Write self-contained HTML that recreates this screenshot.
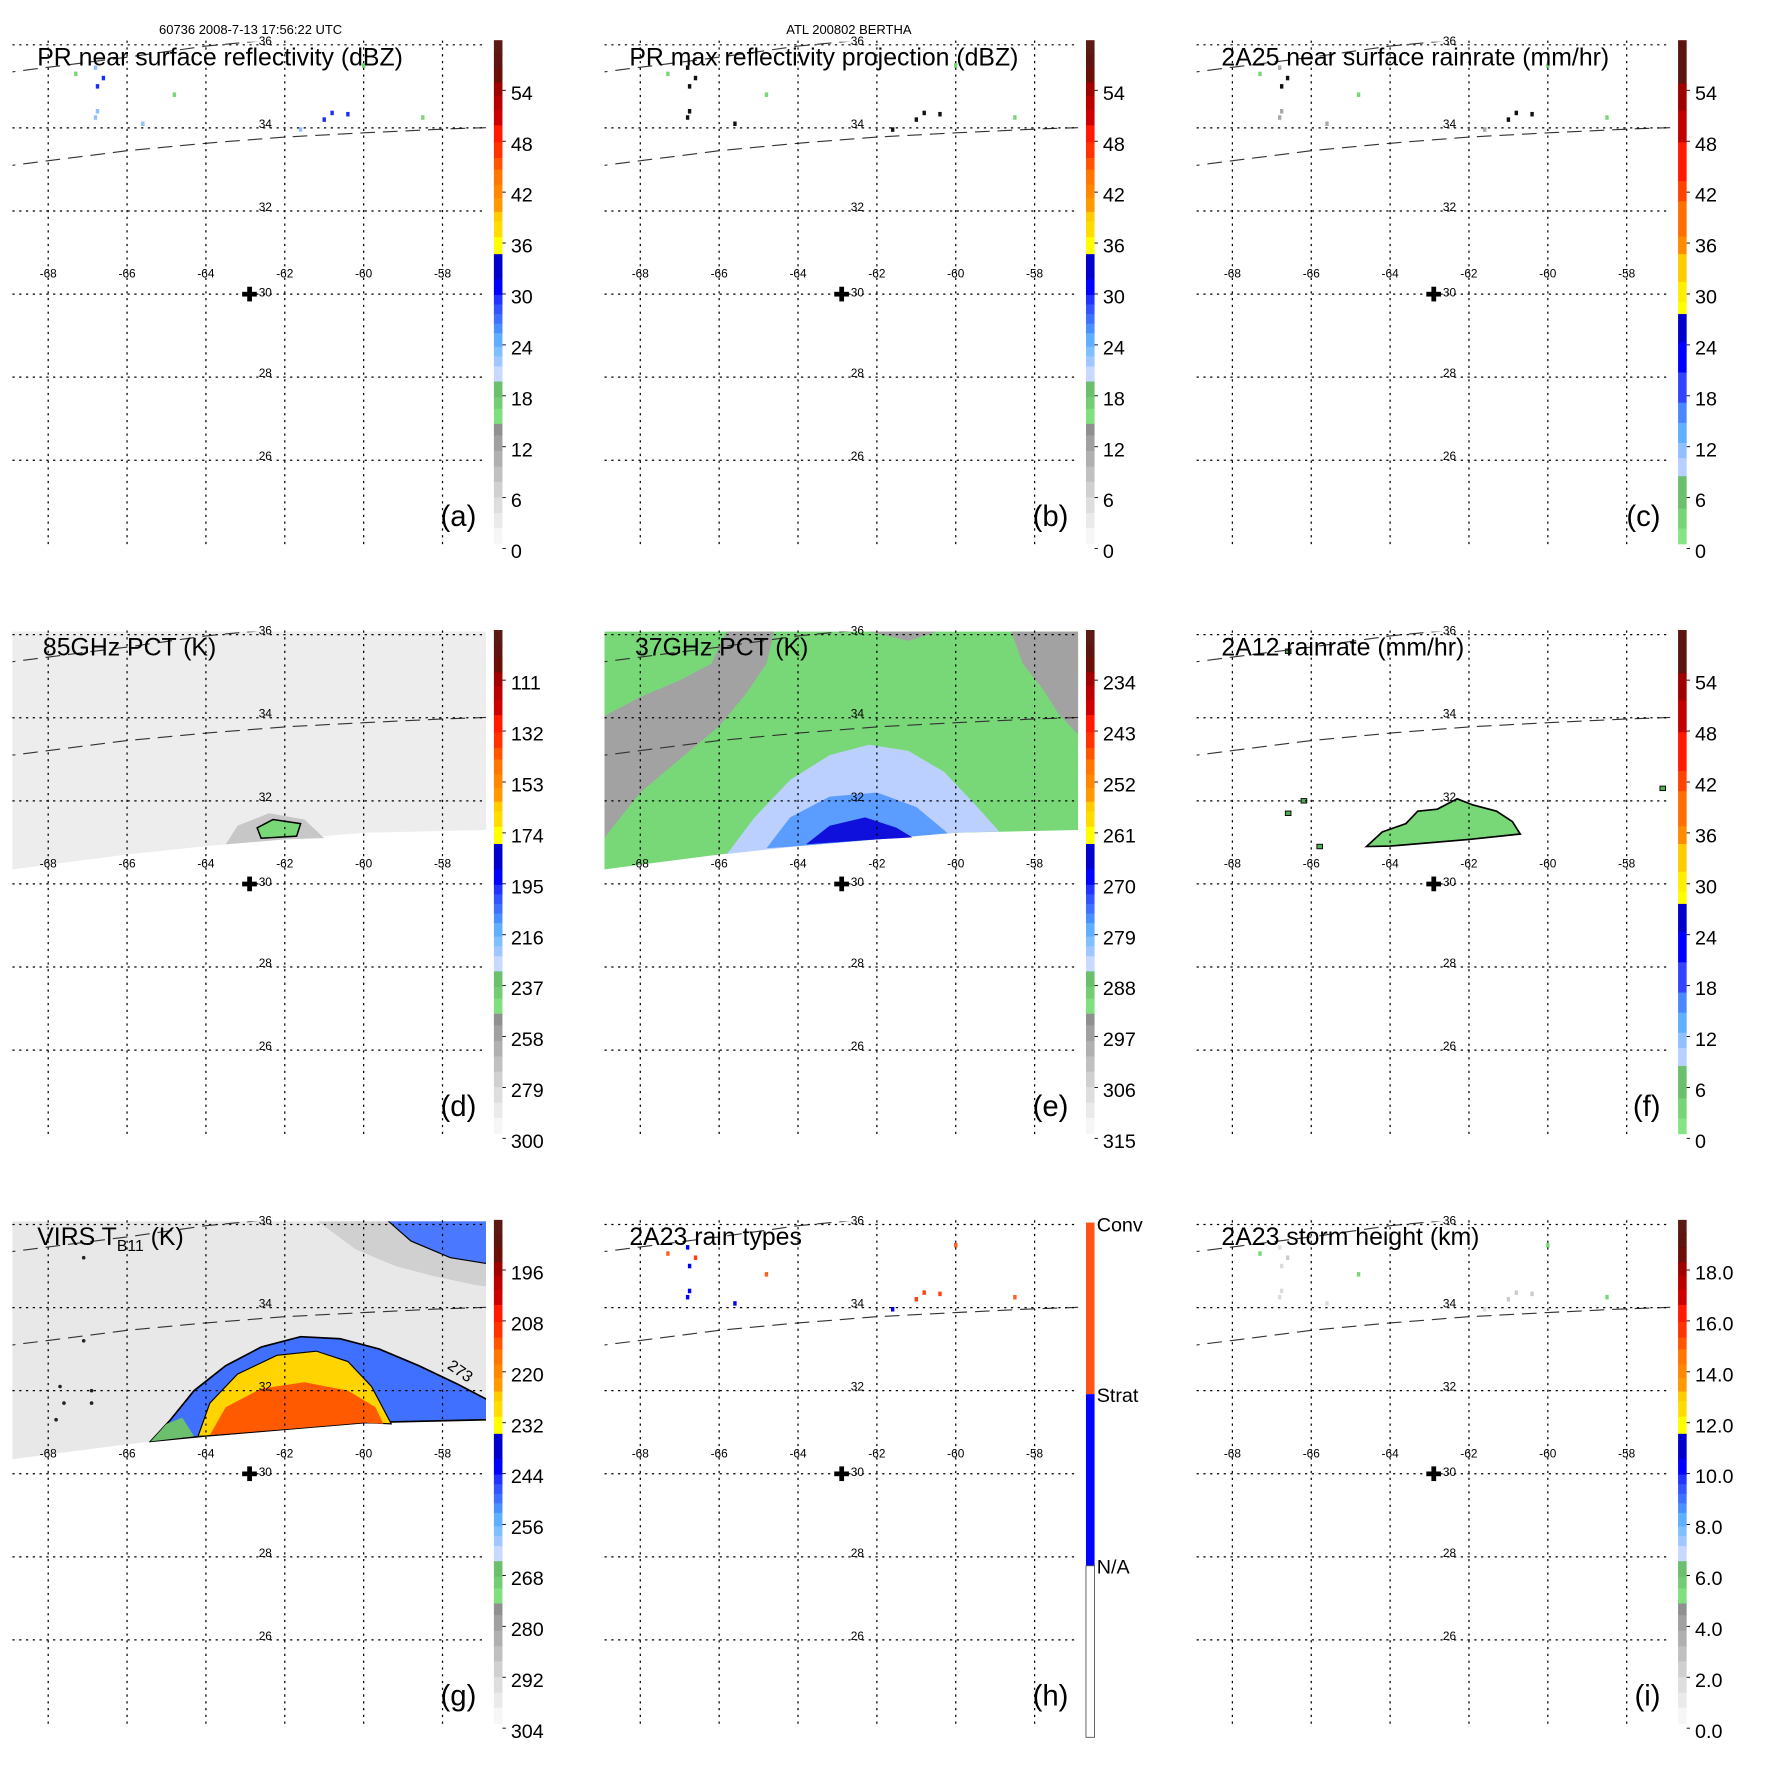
<!DOCTYPE html>
<html><head><meta charset="utf-8">
<style>
html,body{margin:0;padding:0;background:#fff;}
svg{display:block;font-family:"Liberation Sans",Arial,sans-serif;}
</style></head>
<body>
<svg id="fig" xmlns="http://www.w3.org/2000/svg" width="1771" height="1771" viewBox="0 0 1550 1550">
<rect x="0" y="0" width="1550" height="1550" fill="#fff"/>
<g transform="scale(0.988)">
<text x="222" y="30" font-size="11.5" text-anchor="middle">60736 2008-7-13 17:56:22 UTC</text>
<text x="752" y="30" font-size="11.5" text-anchor="middle">ATL 200802 BERTHA</text>
<g id="root"></g>
</g>
</svg>
<script>
// ---------- data arrays ----------
const lonTicks = [-68, -66, -64, -62, -60, -58];
const latTicks = [36, 34, 32, 30, 28, 26];
const cbLabelsDbz = ["54","48","42","36","30","24","18","12","6","0"];
const cbLabels85 = ["111","132","153","174","195","216","237","258","279","300"];
const cbLabels37 = ["234","243","252","261","270","279","288","297","306","315"];
const cbLabelsRain = ["54","48","42","36","30","24","18","12","6","0"];
const cbLabelsVirs = ["196","208","220","232","244","256","268","280","292","304"];
const cbLabelsHeight = ["18.0","16.0","14.0","12.0","10.0","8.0","6.0","4.0","2.0","0.0"];
const rainTypeLabels = ["Conv","Strat","N/A"];
const panelTitles = ["PR near surface reflectivity (dBZ)","PR max reflectivity projection (dBZ)","2A25 near surface rainrate (mm/hr)","85GHz PCT (K)","37GHz PCT (K)","2A12 rainrate (mm/hr)","VIRS T","2A23 rain types","2A23 storm height (km)"];
const panelLetters = ["(a)","(b)","(c)","(d)","(e)","(f)","(g)","(h)","(i)"];
// swath edges (lon, lat)
const swathBottom = [[-69.2,30.3],[-68.9,30.35],[-66,30.71],[-64,30.91],[-62,31.07],[-60,31.23],[-56.9,31.3],[-56.5,31.32]];
const scanEdgeUpper = [[-69.2,35.3],[-68.9,35.35],[-66,35.7],[-64,35.97],[-62,36.15]];
const scanEdgeLower = [[-69.2,33.05],[-68.9,33.1],[-66,33.45],[-64,33.63],[-62,33.78],[-60,33.88],[-58,33.97],[-56.5,34.02]];
// sparse PR echoes [lon, lat, value]
const prEchoes = [[-66.6,35.2,30],[-66.8,35.45,24],[-66.75,35.0,28],[-66.8,34.25,26],[-66.75,34.4,22],[-61.0,34.2,31],[-60.4,34.33,32],[-60.8,34.36,30],[-61.6,33.96,24],[-58.5,34.25,17],[-67.3,35.3,16],[-65.6,34.1,22],[-64.8,34.8,16],[-60.0,35.5,16]];
// 37 GHz regions
const pct37Grey1 = [[-69,31.0],[-68,32.2],[-67,33.0],[-66,33.8],[-65.3,34.6],[-64.8,35.3],[-64.6,36.1],[-65.8,36.1],[-66.2,35.3],[-67,34.9],[-68,34.5],[-69,34.0]];
const pct37Grey2 = [[-58.6,36.1],[-58.3,35.3],[-57.8,34.7],[-57.4,34.1],[-56.5,33.2],[-56.5,36.1]];
const pct37Grey3 = [[-62.3,36.1],[-61.2,35.85],[-60.4,36.1]];
const pct37Light = [[-65.8,30.72],[-65.1,31.6],[-64.2,32.5],[-63.2,33.1],[-62.2,33.35],[-61.2,33.2],[-60.3,32.7],[-59.5,31.9],[-58.9,31.26]];
const pct37Mid = [[-64.8,30.86],[-64.2,31.6],[-63.2,32.1],[-62.0,32.2],[-61.0,31.85],[-60.2,31.22]];
const pct37Dark = [[-63.8,30.95],[-63.2,31.4],[-62.3,31.6],[-61.5,31.35],[-61.1,31.12]];
// 85 GHz cold spot
const pct85Spot = [[-63.5,30.95],[-63.2,31.4],[-62.4,31.7],[-61.5,31.55],[-61.0,31.1]];
const pct85Core = [[-62.7,31.35],[-62.3,31.55],[-61.6,31.45],[-61.7,31.15],[-62.6,31.1]];
// 2A12 rain area
const rain2A12 = [[-64.6,30.9],[-64.2,31.25],[-63.6,31.45],[-63.3,31.75],[-62.8,31.8],[-62.3,32.05],[-61.9,31.9],[-61.3,31.75],[-60.9,31.5],[-60.7,31.2]];
// VIRS storm regions
const virsOuter = [[-65.4,30.78],[-64.9,31.3],[-64.3,32.0],[-63.5,32.6],[-62.6,33.05],[-61.6,33.3],[-60.6,33.25],[-59.6,33.0],[-58.6,32.6],[-57.6,32.15],[-56.5,31.6],[-56.5,31.32]];
const virsGreen = [[-65.4,30.78],[-65.0,31.2],[-64.6,31.35],[-64.3,30.9]];
const virsYellow = [[-64.2,30.9],[-63.9,31.7],[-63.2,32.4],[-62.2,32.85],[-61.2,32.95],[-60.4,32.7],[-59.8,32.1],[-59.3,31.2]];
const virsRed = [[-63.9,30.93],[-63.5,31.6],[-62.6,32.05],[-61.5,32.2],[-60.4,32.0],[-59.7,31.6],[-59.5,31.2]];
const virsCloudNE = [[-61.2,36.1],[-60.2,35.4],[-59.2,35.0],[-58.2,34.75],[-57.2,34.55],[-56.5,34.45],[-56.5,36.1]];
const virsCloudNECore = [[-59.4,36.1],[-58.8,35.6],[-57.8,35.2],[-56.5,35.0],[-56.5,36.1]];

// ---------- helpers ----------
const NS = "http://www.w3.org/2000/svg";
const root = document.getElementById("root");
function mk(tag, attrs, parent){
  const e = document.createElementNS(NS, tag);
  for (const k in attrs) e.setAttribute(k, attrs[k]);
  (parent || root).appendChild(e);
  return e;
}
const colX = [0, 524.5, 1049];
const rowY = [0, 522.5, 1045];
function axes(ox, oy){
  return {
    x: lon => ox + 42.7 + (lon + 68) * 34.93,
    y: lat => oy + 39.7 + (36 - lat) * 36.8
  };
}
function ptsStr(ax, arr){ return arr.map(p => ax.x(p[0]).toFixed(1) + "," + ax.y(p[1]).toFixed(1)).join(" "); }
function regionWithBottom(ax, arr){
  const first = arr[0][0], last = arr[arr.length-1][0];
  const bot = swathBottom.filter(p => p[0] > first && p[0] < last).reverse();
  return ptsStr(ax, arr.concat(bot));
}

const bandsStd = [[0,"#5b1a14"],[0.027,"#5e1510"],[0.054,"#6b0f08"],[0.084,"#a00000"],[0.111,"#b80000"],[0.138,"#cc0000"],[0.169,"#ff1a00"],[0.203,"#ff3300"],[0.234,"#ff5500"],[0.257,"#ff7700"],[0.287,"#ff8800"],[0.314,"#ff9900"],[0.341,"#ffcc00"],[0.360,"#ffdd00"],[0.391,"#ffff00"],[0.425,"#0000cc"],[0.475,"#0000ff"],[0.506,"#2233ff"],[0.525,"#3355ff"],[0.544,"#4070ff"],[0.563,"#4a90ff"],[0.582,"#60b0ff"],[0.609,"#80c0ff"],[0.628,"#a0c8ff"],[0.648,"#c8d8ff"],[0.678,"#6cbf6c"],[0.709,"#74cc74"],[0.732,"#80e080"],[0.762,"#909090"],[0.785,"#a0a0a0"],[0.816,"#b0b0b0"],[0.847,"#c0c0c0"],[0.877,"#d0d0d0"],[0.908,"#dedede"],[0.939,"#eaeaea"],[0.969,"#f6f6f6"]];
const bandsRain = [[0,"#5b1610"],[0.086,"#9e0000"],[0.14,"#c00000"],[0.203,"#ff1a00"],[0.28,"#ff4400"],[0.32,"#ff7000"],[0.39,"#ff8c00"],[0.425,"#ffcc00"],[0.48,"#ffee00"],[0.52,"#ffff00"],[0.544,"#0000cc"],[0.6,"#0000ff"],[0.66,"#3344ff"],[0.72,"#4a88ff"],[0.76,"#60b0ff"],[0.8,"#90c0ff"],[0.83,"#b8d0ff"],[0.866,"#6cbf6c"],[0.93,"#78d478"],[0.97,"#86e486"]];

function colorbar(ox, oy, bands, labels, name){
  const g = mk("g", {});
  
  
  const x0 = ox + 437.5, w = 7.6, top = oy + 35.6, H = 446;
  for (let i = 0; i < bands.length; i++){
    const f0 = bands[i][0], f1 = i + 1 < bands.length ? bands[i+1][0] : 1;
    mk("rect", {x:x0, y:(top + f0*H).toFixed(2), width:w, height:((f1-f0)*H + 0.6).toFixed(2), fill:bands[i][1]}, g);
  }
  for (let i = 0; i < labels.length; i++){
    const yc = oy + 82 + i * 45.1;
    mk("line", {x1:x0+w, x2:x0+w+3, y1:yc-2, y2:yc-2, stroke:"#000", "stroke-width":0.8}, g);
    const t = mk("text", {x:ox + 452.5, y:yc + 6.5, "font-size":17.5}, g);
    t.textContent = labels[i];
  }
}
function rainTypeBar(ox, oy){
  const g = mk("g", {});
  
  
  const x0 = ox + 437.5, w = 7.6;
  mk("rect", {x:x0, y:oy+38, width:w, height:152, fill:"#ff5514"}, g);
  mk("rect", {x:x0, y:oy+190, width:w, height:152, fill:"#0000ff"}, g);
  mk("rect", {x:x0, y:oy+342, width:w, height:152, fill:"#fff", stroke:"#555", "stroke-width":0.8}, g);
  const ys = [40, 191, 343];
  for (let i = 0; i < rainTypeLabels.length; i++){
    const t = mk("text", {x:ox + 447, y:oy + ys[i] + 6, "font-size":17.5}, g);
    t.textContent = rainTypeLabels[i];
  }
}

function panel(idx){
  const ox = colX[idx % 3], oy = rowY[Math.floor(idx / 3)];
  const ax = axes(ox, oy);
  const g = mk("g", {});
  
  
  const cid = "clip" + idx;
  const cp = mk("clipPath", {id:cid}, g);
  mk("rect", {x:ox+11, y:oy+37, width:419.5, height:450}, cp);
  const dataG = mk("g", {"clip-path":"url(#"+cid+")"}, g);
  
  
  const swathTop = [[-69.5,36.2],[-56.3,36.2]];
  const swathPoly = ptsStr(ax, swathTop.concat(swathBottom.slice().reverse()));

  if (idx === 3){
    mk("polygon", {points:swathPoly, fill:"#ededed"}, dataG);
    mk("polygon", {points:regionWithBottom(ax, pct85Spot), fill:"#bdbdbd", opacity:0.8}, dataG);
    mk("polygon", {points:ptsStr(ax, pct85Core), fill:"#78d878", stroke:"#000", "stroke-width":1.3}, dataG);
  } else if (idx === 4){
    mk("polygon", {points:swathPoly, fill:"#78d878"}, dataG);
    [pct37Grey1, pct37Grey2, pct37Grey3].forEach(r => mk("polygon", {points:ptsStr(ax, r), fill:"#a2a2a2"}, dataG));
    mk("polygon", {points:regionWithBottom(ax, pct37Light), fill:"#bcd0ff"}, dataG);
    mk("polygon", {points:regionWithBottom(ax, pct37Mid), fill:"#5a9cff"}, dataG);
    mk("polygon", {points:regionWithBottom(ax, pct37Dark), fill:"#1010dd"}, dataG);
  } else if (idx === 5){
    const p = mk("polygon", {points:regionWithBottom(ax, rain2A12), fill:"#78d878", stroke:"#000", "stroke-width":1.5}, dataG);
    
    
    [[-66.6,35.6],[-66.2,32.0],[-66.6,31.7],[-65.8,30.9],[-57.1,32.3]].forEach(q => {
      mk("rect", {x:ax.x(q[0])-2, y:ax.y(q[1])-2, width:5, height:4, fill:"#5a5", stroke:"#000","stroke-width":0.8}, dataG);
    });
  } else if (idx === 6){
    mk("polygon", {points:swathPoly, fill:"#e8e8e8"}, dataG);
    mk("polygon", {points:ptsStr(ax, virsCloudNE), fill:"#d0d0d0"}, dataG);
    mk("polygon", {points:ptsStr(ax, virsCloudNECore), fill:"#4a78ff", stroke:"#000", "stroke-width":1}, dataG);
    mk("polygon", {points:regionWithBottom(ax, virsOuter), fill:"#4070ff", stroke:"#000", "stroke-width":1.5}, dataG);
    mk("polygon", {points:regionWithBottom(ax, virsGreen), fill:"#6cbf6c"}, dataG);
    mk("polygon", {points:regionWithBottom(ax, virsYellow), fill:"#ffd400", stroke:"#000", "stroke-width":1}, dataG);
    mk("polygon", {points:regionWithBottom(ax, virsRed), fill:"#ff5a00"}, dataG);
    [[-67.7,32.1],[-67.6,31.7],[-66.9,32.0],[-66.9,31.7],[-67.8,31.3],[-67.1,33.2],[-67.1,35.2]].forEach(q => {
      mk("circle", {cx:ax.x(q[0]), cy:ax.y(q[1]), r:1.6, fill:"#222"}, dataG);
    });
    const t = mk("text", {x:ax.x(-57.9), y:ax.y(32.55), "font-size":14, transform:"rotate(35 "+ax.x(-57.9)+" "+ax.y(32.55)+")"}, dataG);
    t.textContent = "273";
  } else {
    prEchoes.forEach(e => {
      let col;
      if (idx === 0) col = e[2] >= 28 ? "#1a2cff" : (e[2] >= 20 ? "#90c0ff" : "#78d878");
      else if (idx === 1) col = e[2] >= 20 ? "#111" : "#78d878";
      else if (idx === 2) col = e[2] >= 28 ? "#111" : (e[2] >= 20 ? "#aaa" : "#78d878");
      else if (idx === 7) col = e[2] >= 30 ? "#ff4010" : (e[2] >= 20 ? "#0000ff" : "#ff6020");
      else col = e[2] >= 30 ? "#ccc" : (e[2] >= 20 ? "#ddd" : "#78d878");
      const r = mk("rect", {x:ax.x(e[0])-1.5, y:ax.y(e[1])-2, width:3, height:4, fill:col}, dataG);
      
      
    });
  }
  [scanEdgeUpper, scanEdgeLower].forEach((ln, k) => {
    const pl = mk("polyline", {points:ptsStr(ax, ln), fill:"none", stroke:"#333", "stroke-width":1, "stroke-dasharray":"13,7"}, dataG);
    
    
  });
  lonTicks.forEach(l => {
    const x = ax.x(l);
    const ln = mk("line", {x1:x, x2:x, y1:oy+36, y2:oy+485, stroke:"#000", "stroke-width":1.1, "stroke-dasharray":"2,4"}, g);
    
    
    const t = mk("text", {x:x, y:oy+246, "font-size":10.5, "text-anchor":"middle"}, g);
    
    
    t.textContent = String(l);
  });
  latTicks.forEach(l => {
    const y = ax.y(l);
    const ln = mk("line", {x1:ox+11, x2:ox+430.5, y1:y, y2:y, stroke:"#000", "stroke-width":1.1, "stroke-dasharray":"2,4"}, g);
    
    
    const t = mk("text", {x:ox+235, y:y+(l===30?2:0), "font-size":10.5, "text-anchor":"middle"}, g);
    
    
    t.textContent = String(l);
  });
  const cx = ox + 221, cy = ax.y(30);
  const cross = mk("g", {}, g);
  
  
  mk("rect", {x:cx-6.5, y:cy-2, width:13, height:4.2, fill:"#000"}, cross);
  mk("rect", {x:cx-2, y:cy-6.5, width:4.2, height:13, fill:"#000"}, cross);
  const tx = ox + (idx === 3 || idx === 4 ? 38 : 33);
  const title = mk("text", {x:tx, y:oy+58, "font-size":22}, g);
  
  
  title.textContent = panelTitles[idx];
  if (idx === 6){
    const s1 = mk("tspan", {"font-size":14, dy:5}, title); s1.textContent = "B11";
    const s2 = mk("tspan", {dy:-5}, title); s2.textContent = " (K)";
  }
  const lab = mk("text", {x:ox+422, y:oy+466, "font-size":26, "text-anchor":"end"}, g);
  
  
  lab.textContent = panelLetters[idx];
  if (idx === 0 || idx === 1) colorbar(ox, oy, bandsStd, cbLabelsDbz, 'reflectivity-colorbar');
  else if (idx === 2 || idx === 5) colorbar(ox, oy, bandsRain, cbLabelsRain, 'rainrate-colorbar');
  else if (idx === 3) colorbar(ox, oy, bandsStd, cbLabels85, 'pct85-colorbar');
  else if (idx === 4) colorbar(ox, oy, bandsStd, cbLabels37, 'pct37-colorbar');
  else if (idx === 6) colorbar(ox, oy, bandsStd, cbLabelsVirs, 'virs-colorbar');
  else if (idx === 7) rainTypeBar(ox, oy);
  else colorbar(ox, oy, bandsStd, cbLabelsHeight, 'storm-height-colorbar');
}
for (let i = 0; i < 9; i++) panel(i);
</script>
</body></html>
